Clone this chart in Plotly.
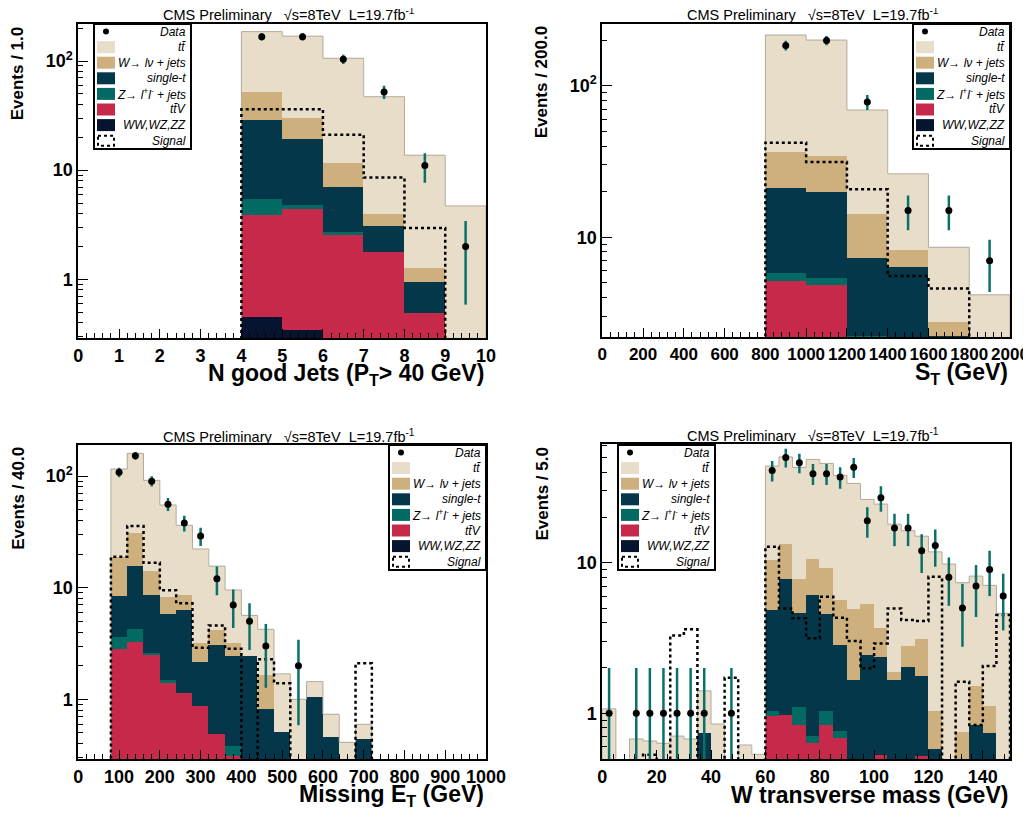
import numpy as np
import plotly.graph_objects as go

# The page body has an 8 px default margin, so the figure is drawn 8 px in from
# the window corner; the figure size is chosen so that the page does not scroll.
OFF = 8
W, H = 1031 - OFF, 818 - 2 * OFF
FONT = "Liberation Sans, Arial, Helvetica, sans-serif"

# ---------------- data (stack layer tops) ----------------
# Panel 1 : N good jets
njet_edges   = [0, 1, 2, 3, 4, 5, 6, 7, 8, 9, 10]
njet_ttbar   = [0, 0, 0, 0, 186, 169, 106, 47.1, 13.7, 4.7]
njet_wjets   = [0, 0, 0, 0, 52, 29.8, 11.6, 3.97, 1.28, 0]
njet_singlet = [0, 0, 0, 0, 28.8, 19.4, 7.0, 3.10, 0.95, 0]
njet_zjets   = [0, 0, 0, 0, 5.44, 4.80, 2.73, 1.77, 0.489, 0]
njet_ttv     = [0, 0, 0, 0, 3.88, 4.38, 2.55, 1.77, 0.489, 0]
njet_diboson = [0, 0, 0, 0, 0.455, 0.344, 0, 0, 0, 0]
njet_signal  = [0, 0, 0, 0, 36.1, 36.1, 21.1, 8.54, 2.95, 0]
njet_data    = [0, 0, 0, 0, 167, 167, 104, 52, 11, 2]

# Panel 2 : S_T
st_edges   = [0, 200, 400, 600, 800, 1000, 1200, 1400, 1600, 1800, 2000]
st_ttbar   = [0, 0, 0, 0, 216, 200, 69.1, 26.2, 8.59, 4.17]
st_wjets   = [0, 0, 0, 0, 36.7, 34.4, 14.3, 8.25, 2.75, 0]
st_singlet = [0, 0, 0, 0, 21.0, 20.0, 7.35, 6.41, 2.22, 0]
st_zjets   = [0, 0, 0, 0, 5.79, 5.42, 2.22, 0, 0, 0]
st_ttv     = [0, 0, 0, 0, 5.11, 4.85, 0, 0, 0, 0]
st_diboson = [0, 0, 0, 0, 0, 0, 0, 0, 0, 0]
st_signal  = [0, 0, 0, 0, 42.1, 31.4, 20.7, 5.56, 4.59, 0]
st_data    = [0, 0, 0, 0, 184, 199, 78, 15, 15, 7]

# Panel 3 : Missing E_T  (40 GeV bins, 0..1000)
met_edges   = list(range(0, 1001, 40))
met_ttbar   = [0, 0, 115.6, 159.6, 91.4, 55.0, 36.2, 22.2, 15.6, 9.53, 5.65, 4.24, 1.69,
               1.0, 1.44, 0.734, 0.412, 0.597, 0, 0, 0, 0, 0, 0, 0]
met_wjets   = [0, 0, 18.7, 30.9, 14.1, 8.30, 8.60, 3.22, 4.18, 3.20, 2.44, 1.65, 0.51,
               0, 1.04, 0.462, 0, 0.438, 0, 0, 0, 0, 0, 0, 0]
met_singlet = [0, 0, 8.48, 15.7, 8.60, 5.81, 6.27, 2.14, 3.04, 2.45, 2.44, 0.813, 0.51,
               0, 1.04, 0.462, 0, 0.438, 0, 0, 0, 0, 0, 0, 0]
met_zjets   = [0, 0, 3.64, 4.24, 2.62, 1.50, 1.15, 0.878, 0.489, 0.382, 0, 0, 0,
               0, 0, 0, 0, 0, 0, 0, 0, 0, 0, 0, 0]
met_ttv     = [0, 0, 2.84, 3.24, 2.49, 1.40, 1.15, 0.878, 0.489, 0.31, 0, 0, 0,
               0, 0, 0, 0, 0, 0, 0, 0, 0, 0, 0, 0]
met_diboson = [0] * 25
met_signal  = [0, 0, 18.9, 35.7, 16.7, 9.46, 7.24, 2.90, 4.57, 2.84, 0, 2.28, 1.39,
               0, 0, 0, 0, 2.10, 0, 0, 0, 0, 0, 0, 0]
met_data    = [0, 0, 108, 152, 90, 56, 38, 29, 12, 7, 5, 3, 0,
               2, 0, 0, 0, 0, 0, 0, 0, 0, 0, 0, 0]

# Panel 4 : W transverse mass (5 GeV bins, 0..150)
mt_edges   = list(range(0, 151, 5))
mt_ttbar   = [1.07, 0, 0.675, 0.655, 0.632, 0.706, 0.675, 1.41, 0.849, 0, 0.616, 0.534,
              43.8, 50.4, 42.9, 48.5, 45.6, 38.0, 33.6, 26.3, 24.5, 18.0, 16.3, 15.0,
              11.8, 9.79, 7.36, 8.15, 7.07, 4.61]
mt_wjets   = [0, 0, 0, 0, 0, 0, 0, 0.736, 0, 0, 0, 0,
              10.4, 13.3, 7.75, 10.6, 9.17, 5.65, 4.90, 5.31, 3.66, 1.86, 2.77, 3.11,
              1.025, 0, 0.748, 1.50, 1.106, 0]
mt_singlet = [0, 0, 0, 0, 0, 0, 0, 0.736, 0, 0, 0, 0,
              4.85, 7.78, 4.61, 6.03, 4.56, 2.81, 1.65, 2.44, 2.35, 1.66, 2.02, 1.77,
              0.58, 0, 0, 0.828, 0.737, 0]
mt_zjets   = [0] * 12 + [1.025, 0.97, 1.09, 0.70, 1.035, 0.763, 0, 0, 0.529, 0, 0, 0.52,
                         0, 0, 0, 0, 0, 0]
mt_ttv     = [0] * 12 + [0.96, 0.97, 0.828, 0.632, 0.828, 0.683, 0, 0, 0.529, 0, 0, 0.52,
                         0, 0, 0, 0, 0, 0]
mt_diboson = [0] * 30
mt_signal  = [0, 0, 0, 0.53, 0, 3.29, 3.61, 0, 0, 1.72, 0, 0,
              12.75, 4.97, 4.27, 3.15, 5.94, 4.31, 3.02, 1.99, 2.91, 4.97, 4.16, 4.10,
              8.06, 0, 1.62, 0.836, 2.06, 4.49]
mt_data    = [1, 0, 1, 1, 1, 1, 1, 1, 0, 1, 0, 0,
              41, 50, 46, 39, 39, 37, 43, 19, 27, 17, 17, 12, 13, 8, 5, 7, 9, 6]

# ---------------- styling ----------------
LAYER_COLORS = ["#E8DDC9", "#CDB07D", "#05374A", "#036A63", "#C7294A", "#07142F"]
DATA_ERR_COLOR = "#0B706A"
LEGEND_LABELS = ["Data", "tt\u0304", "W\u2192 l\u03bd + jets", "single-t",
                 "Z\u2192 l<sup>+</sup>l<sup>-</sup> + jets", "tt\u0304V", "WW,WZ,ZZ", "Signal"]

panels = [
    dict(edges=njet_edges,
         layers=[njet_ttbar, njet_wjets, njet_singlet, njet_zjets, njet_ttv, njet_diboson],
         signal=njet_signal, data=njet_data,
         px=(78.3, 486), py=(24, 338), ylog=(-0.538, 2.339),
         yticks=[1, 10, 100], dtick=1, minor=0.2, xfont=18,
         xtitle="N good Jets (P<sub>T</sub>> 40 GeV)", ytitle="Events / 1.0",
         legend=(94, 24)),
    dict(edges=st_edges,
         layers=[st_ttbar, st_wjets, st_singlet, st_zjets, st_ttv, st_diboson],
         signal=st_signal, data=st_data,
         px=(602.3, 1010), py=(24, 337.3), ylog=(0.340, 2.407),
         yticks=[10, 100], dtick=200, minor=40, xfont=17,
         xtitle="S<sub>T</sub> (GeV)", ytitle="Events / 200.0",
         legend=(913, 24)),
    dict(edges=met_edges,
         layers=[met_ttbar, met_wjets, met_singlet, met_zjets, met_ttv, met_diboson],
         signal=met_signal, data=met_data,
         px=(78.3, 486), py=(445, 759), ylog=(-0.535, 2.278),
         yticks=[1, 10, 100], dtick=100, minor=20, xfont=18,
         xtitle="Missing E<sub>T</sub> (GeV)", ytitle="Events / 40.0",
         legend=(389, 445)),
    dict(edges=mt_edges,
         layers=[mt_ttbar, mt_wjets, mt_singlet, mt_zjets, mt_ttv, mt_diboson],
         signal=mt_signal, data=mt_data,
         px=(602.3, 1010), py=(444.3, 759), ylog=(-0.3035, 1.786),
         yticks=[1, 10], dtick=20, minor=4, xfont=18,
         xtitle="W transverse mass (GeV)", ytitle="Events / 5.0",
         legend=(618, 445)),
]


def fx(x):
    """screen pixel x -> paper fraction"""
    return (x - OFF) / W


def fy(y):
    """screen pixel y -> paper fraction"""
    return 1 - (y - OFF) / H


def steps(edges, vals, floor=1e-4):
    xs, ys = [edges[0]], [floor]
    for i, v in enumerate(vals):
        v = v if v > 0 else floor
        xs += [edges[i], edges[i + 1]]
        ys += [v, v]
    xs.append(edges[-1])
    ys.append(floor)
    return xs, ys


def minor_vals(lo, hi):
    out = []
    for k in range(-2, 4):
        for m in range(2, 10):
            v = m * 10 ** k
            if 10 ** lo <= v <= 10 ** hi:
                out.append(v)
    return out


def tick_text(v):
    if v == 100:
        return "10<sup>2</sup>"
    return str(v)


fig = go.Figure()
layout = dict(width=W, height=H, margin=dict(l=0, r=0, t=0, b=0, pad=0),
              paper_bgcolor="white", plot_bgcolor="white",
              barmode="overlay", bargap=0, showlegend=False,
              font=dict(family=FONT, color="black"))
annotations, shapes = [], []

for i, p in enumerate(panels, start=1):
    xa = "x" if i == 1 else f"x{i}"
    ya = "y" if i == 1 else f"y{i}"
    edges = np.array(p["edges"], dtype=float)
    centers = (edges[:-1] + edges[1:]) / 2
    widths = edges[1:] - edges[:-1]

    for vals, col in zip(p["layers"], LAYER_COLORS):
        yv = [v if v > 0 else None for v in vals]
        fig.add_trace(go.Bar(x=centers, y=yv, width=widths, marker_color=col,
                             marker_line_width=0, xaxis=xa, yaxis=ya,
                             hoverinfo="skip"))
    # outline of the full stack
    sx, sy = steps(p["edges"], p["layers"][0])
    fig.add_trace(go.Scatter(x=sx, y=sy, mode="lines", xaxis=xa, yaxis=ya,
                             line=dict(color="#B3AA9A", width=1), hoverinfo="skip"))
    # signal
    sx, sy = steps(p["edges"], p["signal"])
    fig.add_trace(go.Scatter(x=sx, y=sy, mode="lines", xaxis=xa, yaxis=ya,
                             line=dict(color="black", width=2.5, dash="dot"),
                             hoverinfo="skip"))
    # data
    d = np.array(p["data"], dtype=float)
    mask = d > 0
    dx = centers[mask]
    dy = d[mask]
    err = np.sqrt(dy)
    low = dy - np.maximum(dy - err, 1e-3)
    fig.add_trace(go.Scatter(x=dx, y=dy, mode="markers", xaxis=xa, yaxis=ya,
                             marker=dict(color="black", size=7),
                             error_y=dict(type="data", array=err, arrayminus=low,
                                          color=DATA_ERR_COLOR, thickness=2.5, width=0),
                             hoverinfo="skip"))

    x0, x1 = p["px"]
    ytop, ybot = p["py"]
    lo, hi = p["ylog"]
    layout["xaxis" if i == 1 else f"xaxis{i}"] = dict(
        domain=[fx(x0), fx(x1)], anchor=ya, range=[p["edges"][0], p["edges"][-1]],
        showline=True, linecolor="black", linewidth=2, mirror=True, automargin=False,
        ticks="inside", ticklen=9, tickwidth=1, tickcolor="black",
        tickmode="linear", tick0=0, dtick=p["dtick"], tickangle=0,
        ticklabeloverflow="allow",
        minor=dict(ticks="inside", ticklen=5, tickwidth=1, tickcolor="black",
                   dtick=p["minor"], tick0=0),
        tickfont=dict(family=FONT, size=p["xfont"], color="black", weight="bold"),
        showgrid=False, zeroline=False, fixedrange=True)
    layout["yaxis" if i == 1 else f"yaxis{i}"] = dict(
        domain=[fy(ybot), fy(ytop)], anchor=xa, type="log", range=[lo, hi],
        showline=True, linecolor="black", linewidth=2, mirror=True, automargin=False,
        ticks="inside", ticklen=10, tickwidth=1, tickcolor="black",
        tickmode="array", tickvals=p["yticks"],
        ticktext=[tick_text(v) for v in p["yticks"]],
        minor=dict(ticks="inside", ticklen=5, tickwidth=1, tickcolor="black",
                   tickmode="array", tickvals=minor_vals(lo, hi)),
        tickfont=dict(family=FONT, size=18, color="black", weight="bold"),
        showgrid=False, zeroline=False, fixedrange=True)

    # header
    annotations.append(dict(
        xref="paper", yref="paper", x=fx((x0 + x1) / 2 + 7), y=fy(ytop - 9.5),
        xanchor="center", yanchor="middle", showarrow=False,
        text="CMS Preliminary&nbsp;&nbsp;&nbsp;\u221as=8TeV&nbsp;&nbsp;L=19.7fb<sup>-1</sup>",
        font=dict(family=FONT, size=14.5, color="black")))
    # x title
    annotations.append(dict(
        xref="paper", yref="paper", x=fx(x1), y=fy(ybot + 36),
        xanchor="right", yanchor="middle", showarrow=False, text=p["xtitle"],
        font=dict(family=FONT, size=23, color="black", weight="bold")))
    # y title
    annotations.append(dict(
        xref="paper", yref="paper", x=fx(x0 - 60), y=fy(ytop),
        xanchor="center", yanchor="top", showarrow=False, textangle=-90,
        text=p["ytitle"],
        font=dict(family=FONT, size=17, color="black", weight="bold")))

    # legend box (drawn by hand, ROOT style)
    L, T = p["legend"]
    shapes.append(dict(type="rect", xref="paper", yref="paper", layer="above",
                       x0=fx(L), x1=fx(L + 97), y0=fy(T), y1=fy(T + 125),
                       line=dict(color="black", width=2), fillcolor="white"))
    for r, label in enumerate(LEGEND_LABELS):
        yc = T + 7.5 + 15.6 * r
        if r == 0:
            shapes.append(dict(type="circle", xref="paper", yref="paper", layer="above",
                               x0=fx(L + 9), x1=fx(L + 15), y0=fy(yc - 3), y1=fy(yc + 3),
                               line=dict(color="black", width=0), fillcolor="black"))
        elif r <= 6:
            shapes.append(dict(type="rect", xref="paper", yref="paper", layer="above",
                               x0=fx(L + 3), x1=fx(L + 21), y0=fy(yc - 6), y1=fy(yc + 6),
                               line=dict(width=0), fillcolor=LAYER_COLORS[r - 1]))
        else:
            shapes.append(dict(type="rect", xref="paper", yref="paper", layer="above",
                               x0=fx(L + 4), x1=fx(L + 20), y0=fy(yc - 5), y1=fy(yc + 5),
                               line=dict(color="black", width=2, dash="dot"),
                               fillcolor="rgba(0,0,0,0)"))
        annotations.append(dict(
            xref="paper", yref="paper", x=fx(L + 94), y=fy(yc),
            xanchor="right", yanchor="middle", showarrow=False,
            text=f"<i>{label}</i>", font=dict(family=FONT, size=12, color="black")))

layout["annotations"] = annotations
layout["shapes"] = shapes
fig.update_layout(**layout)
fig.write_html("out.html")
